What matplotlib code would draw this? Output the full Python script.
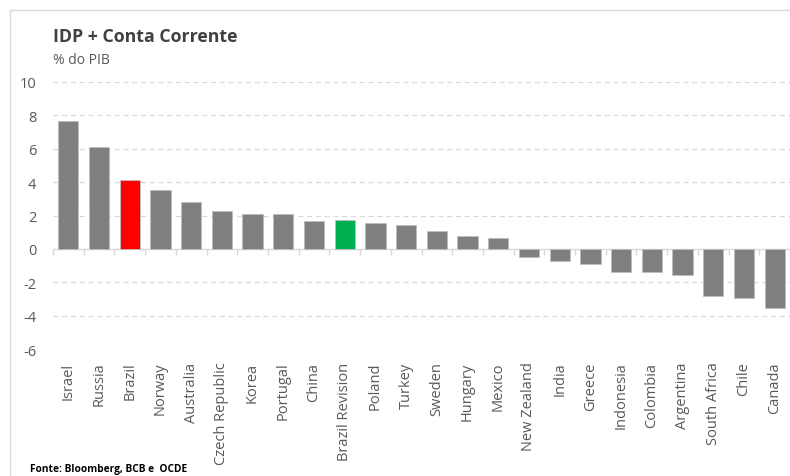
import matplotlib
matplotlib.use("Agg")
import matplotlib.pyplot as plt
from matplotlib.patches import Rectangle

countries = ["Israel", "Russia", "Brazil", "Norway", "Australia", "Czech Republic",
             "Korea", "Portugal", "China", "Brazil Revision", "Poland", "Turkey",
             "Sweden", "Hungary", "Mexico", "New Zealand", "India", "Greece",
             "Indonesia", "Colombia", "Argentina", "South Africa", "Chile", "Canada"]
values = [7.65, 6.1, 4.13, 3.52, 2.78, 2.24, 2.1, 2.1, 1.7, 1.72, 1.58, 1.42,
          1.09, 0.76, 0.68, -0.46, -0.74, -0.88, -1.37, -1.37, -1.57, -2.8, -2.92, -3.53]
highlight = {"Brazil": "#FF0000", "Brazil Revision": "#00B050"}
yticks = [-6, -4, -2, 0, 2, 4, 6, 8, 10]

plt.rcParams['font.family'] = ['Open Sans', 'DejaVu Sans']

fig = plt.figure(figsize=(7.9, 4.77), dpi=100)
W, H = 790, 477
fig.patches.append(Rectangle((10 / W, -0.1), 1.2, 1 - 11 / H + 0.1, transform=fig.transFigure,
                             fill=False, edgecolor="#D9D9D9", linewidth=1.0))

ax = fig.add_axes([53 / W, 1 - 350 / H, (W - 53) / W, (350 - 83) / H])
x = list(range(len(countries)))
colors = [highlight.get(c, "#7F7F7F") for c in countries]
ax.bar(x, values, width=0.66, color=colors, edgecolor="#BFBFBF", linewidth=0.6, zorder=3)

ax.set_ylim(-6, 10)
ax.set_xlim(-0.5, len(countries) - 0.5)
ax.set_yticks(yticks)
ax.set_yticklabels([str(v) for v in yticks])
for v in yticks:
    if v != 0:
        ax.axhline(v, color="#D9D9D9", linewidth=0.9, linestyle=(0, (4, 3)), zorder=1)
ax.axhline(0, color="#D9D9D9", linewidth=1.0, zorder=2)

for s in ax.spines.values():
    s.set_visible(False)
ax.tick_params(axis='y', length=0, labelsize=10.5, labelcolor="#595959", pad=12)
ax.set_xticks(x)
ax.set_xticklabels(countries, rotation=90, fontsize=10.5, color="#595959")
ax.tick_params(axis='x', length=0, pad=9)

sec = ax.secondary_xaxis(6 / 16)
sec.set_xticks([i + 0.5 for i in range(-1, len(countries))])
sec.set_xticklabels([])
sec.tick_params(axis='x', direction='out', length=4, color="#D9D9D9", width=1.0)
for s in sec.spines.values():
    s.set_visible(False)

fig.text(53 / W, 1 - 37 / H, "IDP + Conta Corrente", fontsize=12.8, fontweight='bold',
         color="#404040", va='center', ha='left')
fig.text(53 / W, 1 - 60 / H, "% do PIB", fontsize=10, color="#595959", va='center', ha='left')
fig.text(30 / W, 1 - 470 / H, "Fonte: Bloomberg, BCB e  OCDE", fontsize=7.3, fontweight='bold',
         color="#000000", va='center', ha='left')

fig.savefig("out.png", dpi=100)
